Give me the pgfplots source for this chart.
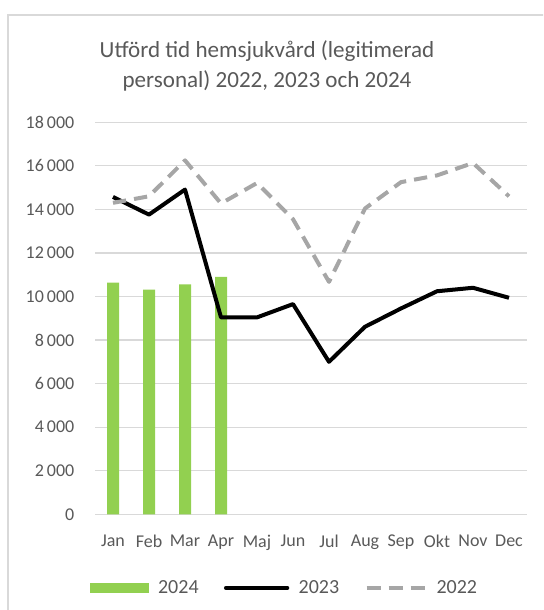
\documentclass[border=0pt]{standalone}
\usepackage{pgfplots}
\pgfplotsset{compat=1.18}
\usepackage{fontspec}
\setmainfont{Carlito}
\definecolor{txt}{HTML}{595959}
\definecolor{gridc}{HTML}{D9D9D9}
\definecolor{g24}{HTML}{92D050}
\definecolor{g22}{HTML}{A6A6A6}
\begin{document}
\begin{tikzpicture}[x=0.75pt,y=0.75pt]
\useasboundingbox (0,0) rectangle (543,610);
\clip (0,0) rectangle (543,610);
\draw[gridc, line width=1pt] (8,-10) rectangle (560,595);
\node[txt, font=\fontsize{17.3}{20}\selectfont, anchor=base] at (267,552) {Utförd tid hemsjukvård (legitimerad};
\node[txt, font=\fontsize{17.3}{20}\selectfont, anchor=base] at (267,522) {personal) 2022, 2023 och 2024};
\begin{axis}[
  at={(71.25pt,71.8pt)}, anchor=south west,
  scale only axis, width=324pt, height=294pt,
  xmin=-0.5, xmax=11.5, ymin=0, ymax=18000,
  ytick={0,2000,...,18000},
  xtick={0,...,11},
  xticklabels={Jan,Feb,Mar,Apr,Maj,Jun,Jul,Aug,Sep,Okt,Nov,Dec},
  ymajorgrids, grid style={gridc, line width=0.9pt},
  axis line style={draw=none},
  major tick length=0pt,
  tick label style={txt, font=\fontsize{13.5}{15}\selectfont},
  /pgf/number format/.cd, 1000 sep={\,}, assume math mode=true, /pgfplots/.cd,
  yticklabel style={xshift=-12pt},
  xticklabel style={yshift=-12pt},
  scaled y ticks=false,
  legend columns=3,
  legend style={at={(-0.012,-0.188)}, anchor=west, draw=none, fill=none,
    inner sep=0pt, font=\fontsize{15}{17}\selectfont, text=txt,
    nodes={inner sep=0pt},
    /tikz/every odd column/.append style={column sep=7pt},
    /tikz/every even column/.append style={column sep=19pt}},
]
\addplot[ybar, bar width=9pt, fill=g24, draw=none,
  legend image code/.code={\fill[g24] (0pt,-3.75pt) rectangle (44pt,3.75pt);}]
  coordinates {(0,10640) (1,10320) (2,10560) (3,10900)};
\addlegendentry{2024}
\addplot[black, line width=3pt, line join=round,
  legend image code/.code={\draw[black, line width=3pt, line cap=round] (0pt,0pt) -- (46pt,0pt);}]
  coordinates {(0,14570) (1,13760) (2,14910) (3,9040) (4,9040) (5,9650) (6,7000) (7,8610) (8,9450) (9,10240) (10,10400) (11,9940)};
\addlegendentry{2023}
\addplot[g22, line width=3pt, line join=round, dash pattern=on 10pt off 6pt,
  legend image code/.code={\draw[g22, line width=3pt, dash pattern=on 10.5pt off 6pt] (0pt,0pt) -- (44pt,0pt);}]
  coordinates {(0,14300) (1,14600) (2,16250) (3,14270) (4,15210) (5,13550) (6,10670) (7,14040) (8,15250) (9,15560) (10,16130) (11,14600)};
\addlegendentry{2022}
\end{axis}
\end{tikzpicture}
\end{document}
